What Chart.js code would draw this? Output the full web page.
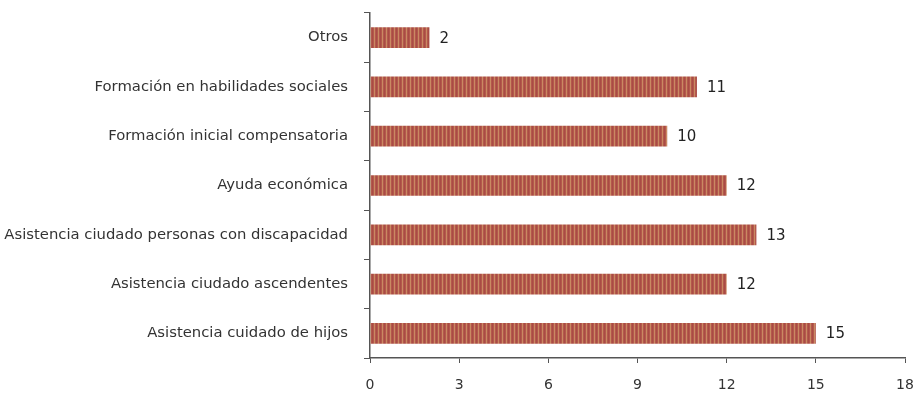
<!DOCTYPE html>
<html><head><meta charset="utf-8">
<script src="https://cdn.jsdelivr.net/npm/chart.js@4/dist/chart.umd.min.js"></script>
<style>html,body{margin:0;padding:0;background:#fff}#wrap{width:917px;height:395px}</style>
</head><body><div id="wrap"><canvas id="c" width="917" height="395"></canvas></div>
<script>
const categories = ["Otros","Formación en habilidades sociales","Formación inicial compensatoria","Ayuda económica","Asistencia ciudado personas con discapacidad","Asistencia ciudado ascendentes","Asistencia cuidado de hijos"];
const values = [2,11,10,12,13,12,15];
const xTicks = [0,3,6,9,12,15,18];

const FONT = '"DejaVu Sans",sans-serif';

function makePattern(){
  const p = document.createElement('canvas'); p.width = 4; p.height = 4;
  const g = p.getContext('2d');
  g.fillStyle = '#b4584c'; g.fillRect(0,0,4,4);
  g.fillStyle = '#c98a62'; g.fillRect(2,0,1,4);
  g.fillStyle = '#a84c44'; g.fillRect(0,0,1,4);
  return document.getElementById('c').getContext('2d').createPattern(p,'repeat');
}

const valueLabels = {
  id:'valueLabels',
  afterDatasetsDraw(chart){
    const ctx = chart.ctx; const meta = chart.getDatasetMeta(0);
    ctx.save(); ctx.font = '15px ' + FONT; ctx.fillStyle = '#222';
    ctx.textBaseline = 'middle'; ctx.textAlign = 'left';
    meta.data.forEach((bar,i)=>{ ctx.fillText(String(values[i]), bar.x + 10, bar.y + 1); });
    ctx.restore();
  }
};

new Chart(document.getElementById('c'), {
  type:'bar',
  data:{ labels:categories, datasets:[{ data:values, backgroundColor:makePattern(), borderWidth:0, barPercentage:0.42, categoryPercentage:1 }]},
  options:{
    indexAxis:'y', responsive:false, animation:false,
    layout:{padding:{top:13,right:12,left:0,bottom:0}},
    plugins:{legend:{display:false}, tooltip:{enabled:false}},
    scales:{
      x:{ min:0, max:18, afterBuildTicks(s){ s.ticks = xTicks.map(v=>({value:v})); },
          afterFit(s){ s.height = 37; s.paddingRight = 0; s.paddingLeft = 0; },
          border:{color:'#555', width:1.5},
          grid:{drawOnChartArea:false, tickLength:5, color:'#555'},
          ticks:{font:{family:FONT,size:14}, color:'#333', padding:14} },
      y:{ afterFit(s){ s.width = 370; s.paddingTop = 0; s.paddingBottom = 0; },
          border:{color:'#555', width:1.5},
          grid:{drawOnChartArea:false, offset:true, tickLength:6, color:'#555'},
          ticks:{font:{family:FONT,size:14.8}, color:'#333', padding:16} }
    }
  },
  plugins:[valueLabels]
});
</script></body></html>
